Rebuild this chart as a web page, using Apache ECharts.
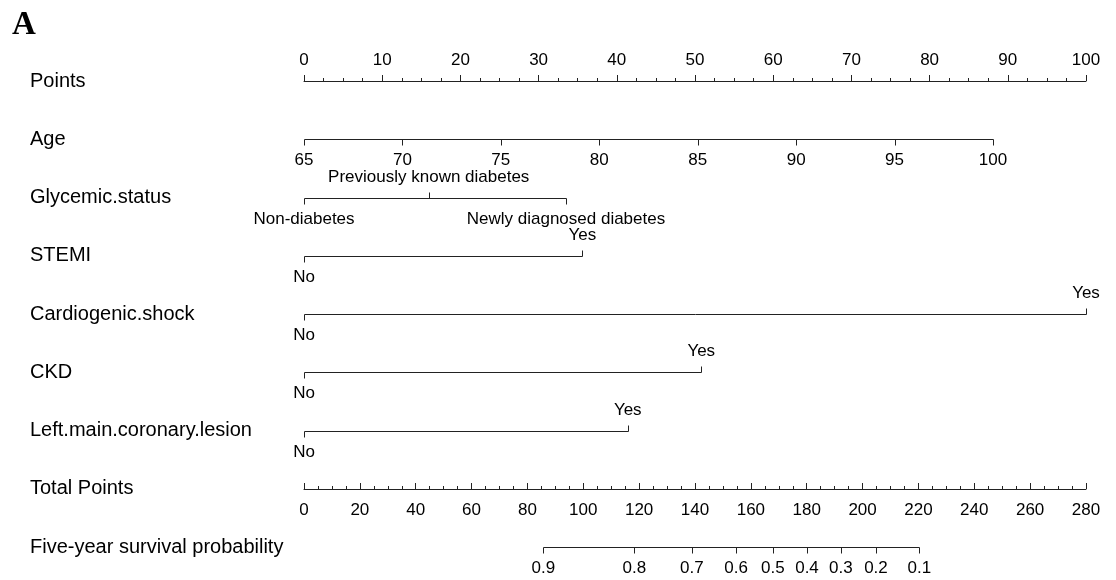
<!DOCTYPE html>
<html>
<head>
<meta charset="utf-8">
<script src="https://cdn.jsdelivr.net/npm/echarts@6/dist/echarts.min.js"></script>
<style>
html,body{margin:0;padding:0;background:#fff;}
#chart{width:1116px;height:580px;}
</style>
</head>
<body>
<div id="chart"></div>
<script>
// ---- data ----
const rowNames = ['Points','Age','Glycemic.status','STEMI','Cardiogenic.shock','CKD','Left.main.coronary.lesion','Total Points','Five-year survival probability'];

const ageLabels = ['65','70','75','80','85','90','95','100'];
const agePoints = [0, 12.59, 25.17, 37.76, 50.35, 62.94, 75.52, 88.11];

const glycLabels = ['Non-diabetes','Previously known diabetes','Newly diagnosed diabetes'];
const glycPoints = [0, 15.95, 33.5];
const glycSide = [1, -1, 1];

const yesNoLabels = ['No','Yes'];
const yesNoSide = [1, -1];
const stemiPoints = [0, 35.6];
const shockPoints = [0, 100];
const ckdPoints = [0, 50.8];
const lmPoints = [0, 41.4];

const survLabels = ['0.9','0.8','0.7','0.6','0.5','0.4','0.3','0.2','0.1'];
const survTotalPoints = [85.7, 118.3, 138.9, 154.7, 167.9, 180.1, 192.2, 204.8, 220.3];

// ---- build row items ----
function rowItems(row, labels, pts, sides) {
  return pts.map((p, i) => ({ value: [p, row], label: labels[i], side: sides[i] }));
}
const varItems = [].concat(
  rowItems(1, ageLabels, agePoints, ageLabels.map(() => 1)),
  rowItems(2, glycLabels, glycPoints, glycSide),
  rowItems(3, yesNoLabels, stemiPoints, yesNoSide),
  rowItems(4, yesNoLabels, shockPoints, yesNoSide),
  rowItems(5, yesNoLabels, ckdPoints, yesNoSide),
  rowItems(6, yesNoLabels, lmPoints, yesNoSide)
);
const survItems = rowItems(8, survLabels, survTotalPoints, survLabels.map(() => 1));

function segs(items) {
  const byRow = {};
  items.forEach(it => {
    const r = it.value[1];
    (byRow[r] = byRow[r] || []).push(it.value[0]);
  });
  return Object.keys(byRow).map(r => [Math.min(...byRow[r]), Math.max(...byRow[r]), +r]);
}

const LINE = '#222';
const TXT = '#000';
const FONT = '"Liberation Sans", Arial, Helvetica, sans-serif';

function makeTickRender(items) {
  return function (params, api) {
    const it = items[params.dataIndex];
    const p = api.coord(it.value);
    const x = Math.round(p[0]) + 0.5;
    const y = Math.round(p[1]) + 0.5;
    return {
      type: 'group',
      children: [
        { type: 'line', shape: { x1: x, y1: y, x2: x, y2: y + it.side * 6 },
          style: { stroke: LINE, lineWidth: 1 } },
        { type: 'text', x: p[0], y: y + it.side * 21,
          style: { text: it.label, fill: TXT, font: '17px ' + FONT, align: 'center', verticalAlign: 'middle' } }
      ]
    };
  };
}
function segRender(params, api) {
  const p0 = api.coord([api.value(0), api.value(2)]);
  const p1 = api.coord([api.value(1), api.value(2)]);
  const y = Math.round(p0[1]) + 0.5;
  return { type: 'line', shape: { x1: Math.round(p0[0]) + 0.5, y1: y, x2: Math.round(p1[0]) + 0.5, y2: y },
    style: { stroke: LINE, lineWidth: 1 } };
}

const chart = echarts.init(document.getElementById('chart'), null, { renderer: 'canvas' });
chart.setOption({
  backgroundColor: '#fff',
  animation: false,
  graphic: [{
    type: 'text', left: 12, top: 9,
    style: { text: 'A', font: 'bold 33px "Liberation Serif", "Times New Roman", serif', fill: '#000' }
  }],
  grid: { left: 304, right: 30, top: 81, bottom: 33, containLabel: false, outerBoundsMode: 'none' },
  xAxis: [
    {
      type: 'value', min: 0, max: 100, interval: 10, position: 'top',
      axisLine: { show: true, onZero: false, lineStyle: { color: LINE, width: 1 } },
      axisTick: { show: true, length: 6, lineStyle: { color: LINE } },
      minorTick: { show: true, splitNumber: 4, length: 3, lineStyle: { color: LINE } },
      axisLabel: { margin: 12, fontSize: 17, color: TXT, fontFamily: FONT },
      splitLine: { show: false }, minorSplitLine: { show: false }
    },
    {
      type: 'value', min: 0, max: 280, interval: 20, position: 'bottom', offset: -58,
      axisLine: { show: true, onZero: false, lineStyle: { color: LINE, width: 1 } },
      axisTick: { show: true, inside: true, length: 6, lineStyle: { color: LINE } },
      minorTick: { show: true, splitNumber: 4, length: 3, lineStyle: { color: LINE } },
      axisLabel: { margin: 13, fontSize: 17, color: TXT, fontFamily: FONT },
      splitLine: { show: false }, minorSplitLine: { show: false }
    }
  ],
  yAxis: {
    type: 'value', min: 0, max: 8, interval: 1, inverse: true,
    axisLine: { show: false }, axisTick: { show: false }, splitLine: { show: false },
    axisLabel: {
      show: true, align: 'left', margin: 274, fontSize: 20, color: TXT, fontFamily: FONT,
      formatter: v => rowNames[v] || ''
    }
  },
  series: [
    { type: 'custom', xAxisIndex: 0, yAxisIndex: 0, renderItem: segRender, data: segs(varItems), silent: true },
    { type: 'custom', xAxisIndex: 0, yAxisIndex: 0, renderItem: makeTickRender(varItems), data: varItems.map(d => d.value), silent: true },
    { type: 'custom', xAxisIndex: 1, yAxisIndex: 0, renderItem: segRender, data: segs(survItems), silent: true },
    { type: 'custom', xAxisIndex: 1, yAxisIndex: 0, renderItem: makeTickRender(survItems), data: survItems.map(d => d.value), silent: true }
  ]
});
</script>
</body>
</html>
